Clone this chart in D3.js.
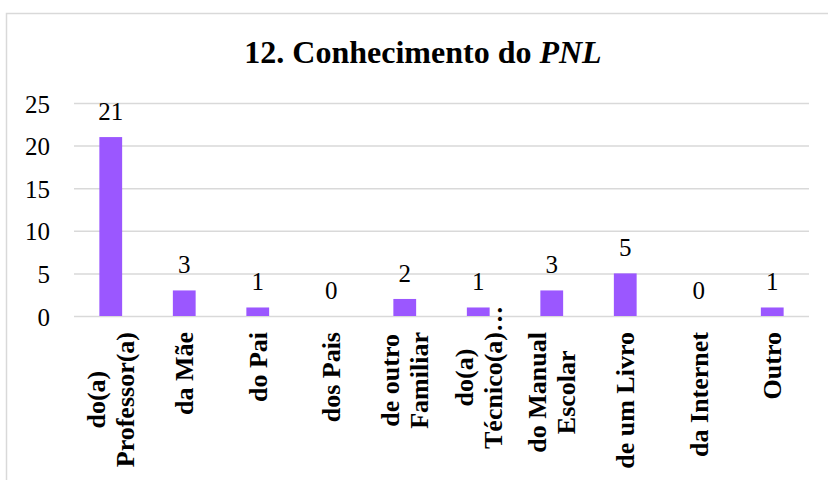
<!DOCTYPE html>
<html>
<head>
<meta charset="utf-8">
<script src="https://cdn.jsdelivr.net/npm/d3@7"></script>
<style>
  body { margin: 0; background: #fff; }
  svg text { font-family: "Times New Roman", "Liberation Serif", Times, "DejaVu Serif", serif; }
</style>
</head>
<body>
<div id="chart"></div>
<script>
const categories = [
  ['do(a)', 'Professor(a)'],
  ['da Mãe'],
  ['do Pai'],
  ['dos Pais'],
  ['de outro', 'Familiar'],
  ['do(a)', 'Técnico(a)…'],
  ['do Manual', 'Escolar'],
  ['de um Livro'],
  ['da Internet'],
  ['Outro']
]
const values = [21, 3, 1, 0, 2, 1, 3, 5, 0, 1]
const yTicks = [0, 5, 10, 15, 20, 25]

const totalWidth = 828
const totalHeight = 480
const margin = { top: 103, left: 74, right: 19, bottom: 164 }
const width = totalWidth - margin.left - margin.right
const height = totalHeight - margin.top - margin.bottom

const root = d3
  .select('#chart')
  .append('svg')
  .attr('width', totalWidth)
  .attr('height', totalHeight)

// chart area border
root
  .append('rect')
  .attr('x', 6.5)
  .attr('y', 13.5)
  .attr('width', 900)
  .attr('height', 600)
  .attr('fill', 'none')
  .attr('stroke', '#d9d9d9')
  .attr('stroke-width', 1.5)

root
  .append('text')
  .attr('x', 423)
  .attr('y', 63)
  .attr('text-anchor', 'middle')
  .attr('font-size', 32)
  .attr('font-weight', 'bold')
  .text('12. Conhecimento do ')
  .append('tspan')
  .attr('font-style', 'italic')
  .text('PNL')

const svg = root
  .append('g')
  .attr('transform', 'translate(' + margin.left + ',' + margin.top + ')')

const xPositionScale = d3
  .scaleBand()
  .domain(d3.range(values.length))
  .range([0, width])
  .paddingInner(0.69)
  .paddingOuter(0.345)

const yPositionScale = d3.scaleLinear().domain([0, 25]).range([height, 0])

// gridlines + y labels
const yAxis = d3
  .axisLeft(yPositionScale)
  .tickValues(yTicks)
  .tickSize(-width)
  .tickPadding(24)

svg
  .append('g')
  .attr('class', 'axis y-axis')
  .call(yAxis)
  .attr('font-family', null)
  .call(g => g.select('.domain').remove())
  .call(g =>
    g
      .selectAll('.tick line')
      .attr('stroke', '#d9d9d9')
      .attr('stroke-width', 1.5)
  )
  .call(g =>
    g
      .selectAll('.tick text')
      .attr('font-size', 25)
      .attr('fill', '#000')
      .attr('dy', '0.36em')
  )

svg
  .selectAll('.bar')
  .data(values)
  .enter()
  .append('rect')
  .attr('class', 'bar')
  .attr('x', (d, i) => xPositionScale(i))
  .attr('width', xPositionScale.bandwidth())
  .attr('y', d => yPositionScale(d))
  .attr('height', d => height - yPositionScale(d))
  .attr('fill', '#9b57ff')

svg
  .selectAll('.value-text')
  .data(values)
  .enter()
  .append('text')
  .attr('class', 'value-text')
  .attr('x', (d, i) => xPositionScale(i) + xPositionScale.bandwidth() / 2)
  .attr('y', d => yPositionScale(d) - 17)
  .attr('text-anchor', 'middle')
  .attr('font-size', 25)
  .text(d => d)

// rotated category labels, lines centred on each other, block top under the axis
// (the truncated one spills up past the top, like Excel does)
const labelTop = height + 16
const lineGap = 29

categories.forEach((lines, i) => {
  const cx = xPositionScale(i) + xPositionScale.bandwidth() / 2
  const g = svg.append('g').attr('class', 'x-label')
  const texts = lines.map((line, j) => {
    const base = cx + 9 + (j - (lines.length - 1) / 2) * lineGap
    return g
      .append('text')
      .attr('text-anchor', 'middle')
      .attr('font-size', 26)
      .attr('font-weight', 'bold')
      .attr('data-base', base)
      .text(line)
  })
  const longest = d3.max(texts, t =>
    t.node().getComputedTextLength() -
    (t.text().endsWith('…') ? 52 : 0)
  )
  const cy = labelTop + longest / 2
  texts.forEach(t => {
    const base = +t.attr('data-base')
    t.attr('transform', 'translate(' + base + ',' + cy + ') rotate(-90)')
  })
})
</script>
</body>
</html>
